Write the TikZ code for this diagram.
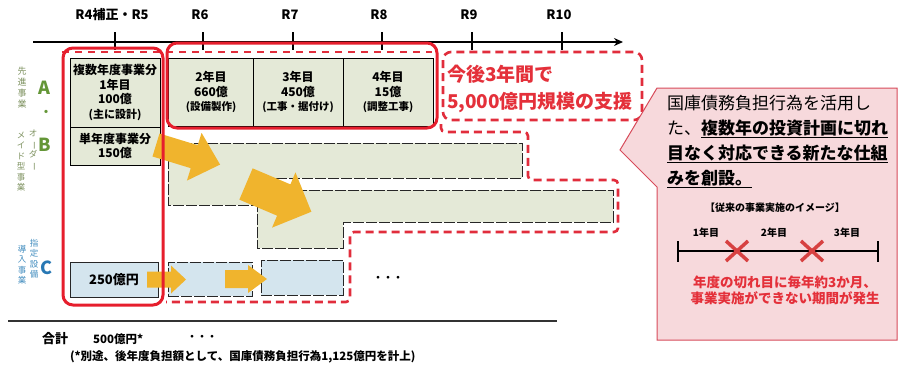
\documentclass[tikz,border=0pt]{standalone}
\usepackage{fontspec}
\setmainfont{Noto Sans CJK JP}
\usetikzlibrary{arrows.meta,calc}
\definecolor{redS}{RGB}{230,30,45}
\definecolor{redD}{RGB}{225,45,60}
\definecolor{redT}{RGB}{228,48,58}
\definecolor{cellgreen}{RGB}{228,233,215}
\definecolor{cellblue}{RGB}{212,229,238}
\definecolor{orangeA}{RGB}{240,180,45}
\definecolor{pinkF}{RGB}{247,217,220}
\definecolor{pinkB}{RGB}{215,75,90}
\definecolor{labgreen}{RGB}{100,150,55}
\definecolor{labblue}{RGB}{40,120,180}
\definecolor{vgreen}{RGB}{125,145,95}
\definecolor{vblue}{RGB}{65,140,190}
\definecolor{xred}{RGB}{215,65,65}
\newcommand\vbar{\rotatebox[origin=c]{-90}{ー}}
\newcommand\blockarr[6]{%
  \begin{scope}[shift={#1},rotate=#2]
    \fill[orangeA] (0,-#4) -- ({#3-#6},-#4) -- ({#3-#6},-#5) -- (#3,0) -- ({#3-#6},#5) -- ({#3-#6},#4) -- (0,#4) -- cycle;
  \end{scope}}
\begin{document}
\begin{tikzpicture}[x=1pt,y=-1pt,
  every node/.style={inner sep=0pt,outer sep=0pt},
  rlab/.style={font=\bfseries\fontsize{13}{15}\selectfont},
  cellA/.style={draw=black,line width=0.9pt,fill=cellgreen,align=center,
    font=\bfseries\fontsize{12}{14.5}\selectfont},
  bar/.style={draw=black!85,line width=1pt,dash pattern=on 11pt off 2pt},
  redbox/.style={draw=redS,line width=3pt,rounded corners=10pt},
  reddash/.style={draw=redD,line width=2.6pt,dash pattern=on 8pt off 5pt,rounded corners=8pt},
  vlab/.style={align=center,font=\fontsize{8.5}{10.5}\selectfont},
  big/.style={font=\bfseries\fontsize{19}{22}\selectfont,text=redT,anchor=west},
  cl/.style={anchor=base west,font=\fontsize{17}{21}\selectfont},
  small/.style={font=\bfseries\fontsize{10}{12}\selectfont},
  redtxt/.style={font=\bfseries\fontsize{13.5}{16}\selectfont,text=redT},
]
\useasboundingbox (0,0) rectangle (901,370);
% axis
\coordinate (ax0) at (33,42);
\coordinate (ax1) at (623,42);
\draw[line width=1.5pt,-{Stealth[length=9pt,width=8pt]}] (ax0) -- (ax1);
\foreach \x/\t/\n in {115/R4補正・R5/t0,203/R6/t1,293/R7/t2,382/R8/t3,472/R9/t4,562/R10/t5}{
  \draw[line width=1.5pt] (\x,32) -- (\x,50);
  \node[rlab] (\n) at (\x-3,15) {\t};
}
% thin dashed red
\draw[redD,line width=1.5pt,dash pattern=on 7pt off 6pt] (62,52) -- (432,52);
% row A
\node[cellA,minimum width=90pt,minimum height=69pt] (a1) at (115,92.5) {複数年度事業分\\1年目\\100億\\{\fontsize{11}{13}\selectfont(主に設計)}};
\node[cellA,minimum width=85pt,minimum height=68pt] (a2) at (211,92) {2年目\\660億\\{\fontsize{10.5}{13}\selectfont(設備製作)}};
\node[cellA,minimum width=90pt,minimum height=68pt] (a3) at (298,92) {3年目\\450億\\{\fontsize{10.5}{13}\selectfont(工事・据付け)}};
\node[cellA,minimum width=90pt,minimum height=68pt] (a4) at (388,92) {4年目\\15億\\{\fontsize{10.5}{13}\selectfont(調整工事)}};
% row B
\node[cellA,minimum width=90pt,minimum height=38pt] (b1) at (115,146) {単年度事業分\\150億};
\fill[cellgreen] (168,143) -- (522,143) -- (522,178) -- (257,178) -- (257,205) -- (168,205) -- cycle;
\draw[bar] (168,143) -- (522,143) -- (522,178) -- (257,178) -- (257,205) -- (168,205) -- cycle;
\fill[cellgreen] (257,190) -- (613,190) -- (613,222) -- (343,222) -- (343,248) -- (257,248) -- cycle;
\draw[bar] (257,190) -- (613,190) -- (613,222) -- (343,222) -- (343,248) -- (257,248) -- cycle;
% row C
\node[draw=black!85,line width=1pt,fill=cellblue,minimum width=88pt,minimum height=35pt,
  font=\bfseries\fontsize{13}{15}\selectfont] (c1) at (114,279.5) {250億円};
\node[bar,fill=cellblue,minimum width=84pt,minimum height=34pt] (c2) at (210,279) {};
\node[bar,fill=cellblue,minimum width=82pt,minimum height=35pt] (c3) at (302,277.5) {};
\node[font=\bfseries\fontsize{10}{12}\selectfont] (dots1) at (388,279) {・・・};
% arrows
\blockarr{(156,145)}{-17}{67}{12}{25}{27}
\blockarr{(246,184)}{-23}{71}{17}{30}{30}
\blockarr{(147,279.5)}{0}{39}{8}{14}{15}
\blockarr{(225,279)}{0}{42}{9}{14}{19}
% red frames
\draw[redbox] (63,48) rectangle (163,305);
\draw[redbox] (167,43) rectangle (437,128);
\draw[reddash,fill=white] (443,52) rectangle (642,120);
\node[big] (s1) at (447,74) {今後3年間で};
\node[big] (s2) at (447,103) {5,000億円規模の支援};
\draw[reddash,rounded corners=4pt] (441,124) -- (441,132) -- (528,132) -- (528,180) -- (618,180) -- (618,232) -- (350,232) -- (350,302) -- (166,302);
% left labels
\node[font=\bfseries\fontsize{18}{20}\selectfont,text=labgreen] (la) at (44,88) {A};
\node[font=\bfseries\fontsize{12}{14}\selectfont,text=labgreen] (ldot) at (46,113) {・};
\node[font=\bfseries\fontsize{18}{20}\selectfont,text=labgreen] (lb) at (45,145) {B};
\node[font=\bfseries\fontsize{18}{20}\selectfont,text=labblue] (lc) at (47,268) {C};
\node[vlab,text=vgreen,font=\fontsize{9}{11}\selectfont,anchor=north] (v1) at (22,67) {先\\進\\事\\業};
\node[vlab,text=vgreen,anchor=north] (v2) at (33,130) {オ\\\vbar\\ダ\\\vbar};
\node[vlab,text=vgreen,anchor=north] (v3) at (21,132) {メ\\イ\\ド\\型\\事\\業};
\node[vlab,text=vblue,anchor=north] (v4) at (34,239) {指\\定\\設\\備};
\node[vlab,text=vblue,anchor=north] (v5) at (22,245) {導\\入\\事\\業};
% callout
\draw[fill=pinkF,draw=pinkB,line width=1pt] (657,88) -- (897,88) -- (897,340) -- (657,340) -- (657,187) -- (620,150) -- cycle;
\node[cl] (k1) at (667,109) {国庫債務負担行為を活用し};
\node[cl] (k2) at (667,134) {た、\textbf{\underline{複数年の投資計画に切れ}}};
\node[cl] (k3) at (667,159) {\textbf{\underline{目なく対応できる新たな仕組}}};
\node[cl] (k4) at (667,184) {\textbf{\underline{みを創設。}}};
\node[small] (k5) at (775,208) {【従来の事業実施のイメージ】};
\coordinate (tl0) at (678,251);
\coordinate (tl1) at (878,251);
\draw[line width=1.5pt] (tl0) -- (tl1);
\draw[line width=1.8pt] (678,241) -- (678,262) (878,241) -- (878,262);
\node[small] (y1) at (706,233) {1年目};
\node[small] (y2) at (774,233) {2年目};
\node[small] (y3) at (847,233) {3年目};
\draw[xred,line width=3.5pt] (726,241) -- (748,261) (726,261) -- (748,241);
\draw[xred,line width=3.5pt] (801,241) -- (823,261) (801,261) -- (823,241);
\node[redtxt] (r1) at (785,282) {年度の切れ目に毎年約3か月、};
\node[redtxt] (r2) at (785,298) {事業実施ができない期間が発生};
% bottom
\coordinate (bl0) at (8,321);
\coordinate (bl1) at (557,321);
\draw[line width=1.2pt,black!80] (bl0) -- (bl1);
\node[font=\bfseries\fontsize{13}{15}\selectfont] (sum) at (55,339) {合計};
\node[font=\bfseries\fontsize{11.5}{14}\selectfont,anchor=west] (sumv) at (93,339) {500億円*};
\node[font=\bfseries\fontsize{10}{12}\selectfont] (dots2) at (202,338) {・・・};
\node[font=\bfseries\fontsize{11.5}{13}\selectfont,anchor=west] (fn) at (70,357) {(*別途、後年度負担額として、国庫債務負担行為1,125億円を計上)};
\end{tikzpicture}
\end{document}
